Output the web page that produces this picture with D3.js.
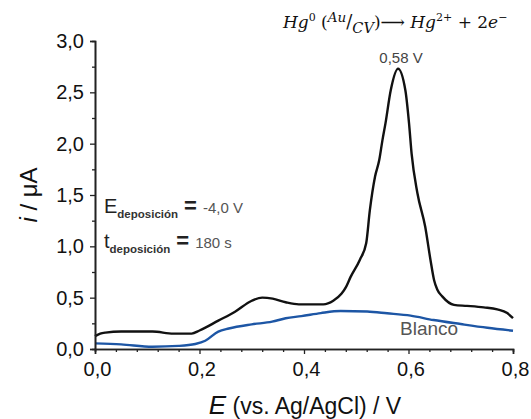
<!DOCTYPE html>
<html><head><meta charset="utf-8">
<script src="https://cdn.jsdelivr.net/npm/d3@7"></script>
<style>body{margin:0;background:#fff;} svg{display:block;font-family:"Liberation Sans",Arial,sans-serif;}</style>
</head><body>
<svg id="c" width="531" height="419"></svg>
<script>
const sampleE = [0.000,0.010,0.020,0.050,0.110,0.150,0.185,0.200,0.236,0.268,0.300,0.320,0.340,0.365,0.390,0.437,0.456,0.472,0.480,0.489,0.507,0.519,0.526,0.536,0.544,0.550,0.556,0.566,0.580,0.594,0.601,0.606,0.617,0.632,0.642,0.649,0.655,0.665,0.687,0.712,0.744,0.770,0.789,0.800];
const sampleI = [0.125,0.150,0.160,0.170,0.170,0.150,0.150,0.180,0.276,0.363,0.470,0.500,0.490,0.455,0.435,0.435,0.470,0.540,0.600,0.700,0.870,1.030,1.350,1.680,1.840,2.030,2.200,2.520,2.730,2.520,2.200,1.900,1.520,1.190,0.870,0.670,0.580,0.510,0.430,0.420,0.405,0.386,0.350,0.300];
const blankE = [0.000,0.050,0.110,0.160,0.192,0.211,0.236,0.256,0.300,0.339,0.365,0.395,0.432,0.470,0.521,0.559,0.604,0.648,0.700,0.751,0.800];
const blankI = [0.055,0.045,0.022,0.030,0.049,0.080,0.170,0.200,0.240,0.266,0.300,0.320,0.350,0.370,0.365,0.348,0.325,0.282,0.243,0.207,0.178];
const xMajor = [0,0.2,0.4,0.6,0.8];
const xMinor = [0.04,0.08,0.12,0.16,0.24,0.28,0.32,0.36,0.44,0.48,0.52,0.56,0.64,0.68,0.72,0.76];
const yMajor = [0,0.5,1.0,1.5,2.0,2.5,3.0];
const yMinor = [0.25,0.75,1.25,1.75,2.25,2.75];

const svg = d3.select("#c");
const x = d3.scaleLinear().domain([0,0.8]).range([95,513]);
const y = d3.scaleLinear().domain([0,3]).range([349,41]);
const fmt = d => d3.format(".1f")(d).replace(".", ",");

// curves
const line = d3.line().x(d=>x(d[0])).y(d=>y(d[1])).curve(d3.curveMonotoneX);
svg.append("path").datum(blankE.map((e,i)=>[e,blankI[i]]))
  .attr("d",line).attr("fill","none").attr("stroke","#1d56a5").attr("stroke-width",2.4);
svg.append("path").datum(sampleE.map((e,i)=>[e,sampleI[i]]))
  .attr("d",line).attr("fill","none").attr("stroke","#111").attr("stroke-width",2.4);

// axes
const xAxis = svg.append("g").attr("transform","translate(0,349)");
xAxis.call(d3.axisBottom(x).tickValues(xMinor).tickSize(3).tickFormat(""));
xAxis.call(g=>g.append("g").call(d3.axisBottom(x).tickValues(xMajor).tickSize(5).tickFormat(fmt)));
const yAxis = svg.append("g").attr("transform","translate(95,0)");
yAxis.call(d3.axisLeft(y).tickValues(yMinor).tickSize(3).tickFormat(""));
yAxis.call(g=>g.append("g").call(d3.axisLeft(y).tickValues(yMajor).tickSize(5).tickFormat(fmt)));
svg.selectAll(".domain").attr("stroke","#222").attr("stroke-width",1.6);
svg.selectAll(".tick line").attr("stroke","#222").attr("stroke-width",1.3);
xAxis.selectAll(".tick text").style("font-size","20px").style("font-family","Liberation Sans, Arial, sans-serif").attr("fill","#111").attr("dy","0.95em").attr("dx","2px");
yAxis.selectAll(".tick text").style("font-size","20px").style("font-family","Liberation Sans, Arial, sans-serif").attr("fill","#111").attr("dx","-3px");

// axis titles
const xt = svg.append("text").attr("x",305).attr("y",414).attr("text-anchor","middle").style("font-size","23px").attr("fill","#111");
xt.append("tspan").attr("font-style","italic").style("font-size","26px").text("E");
xt.append("tspan").text(" (vs. Ag/AgCl) / V");
const yt = svg.append("text").attr("transform","translate(37,195) rotate(-90)").attr("text-anchor","middle").style("font-size","24px").attr("fill","#111");
yt.append("tspan").attr("font-style","italic").text("i");
yt.append("tspan").text(" / μA");

// annotations
svg.append("text").attr("x",401).attr("y",63).attr("text-anchor","middle").style("font-size","15px").attr("fill","#444").text("0,58 V");
svg.append("text").attr("x",400).attr("y",335).style("font-size","19px").attr("fill","#555").text("Blanco");

function cond(yy, sym, val){
  const t = svg.append("text").attr("x",104).attr("y",yy).attr("fill","#222");
  t.append("tspan").style("font-size","20px").text(sym);
  t.append("tspan").style("font-size","11.5px").attr("font-weight","bold").attr("dy",5).attr("fill","#333").text("deposición");
  t.append("tspan").style("font-size","22px").attr("font-weight","bold").attr("dy",-5).attr("dx",6).text("=");
  t.append("tspan").style("font-size","15px").attr("fill","#555").attr("dx",6).text(val);
}
cond(213,"E","-4,0 V");
cond(248,"t","180 s");

// reaction formula
const f = svg.append("text").attr("x",283).attr("y",28).attr("font-family","DejaVu Serif, Liberation Serif, serif").style("font-size","17px").attr("fill","#111");
f.append("tspan").attr("font-style","italic").text("Hg");
f.append("tspan").style("font-size","11px").attr("dy",-7).text("0");
f.append("tspan").attr("dy",7).text(" (");
f.append("tspan").attr("font-style","italic").style("font-size","13.5px").attr("dy",-6).text("Au");
f.append("tspan").attr("dy",6).style("font-size","18px").text("/");
f.append("tspan").attr("font-style","italic").style("font-size","14.5px").attr("dy",5).text("CV");
f.append("tspan").attr("dy",-5).text(")");
f.append("tspan").text("⟶ ");
f.append("tspan").attr("font-style","italic").text("Hg");
f.append("tspan").style("font-size","11px").attr("dy",-7).text("2+");
f.append("tspan").attr("dy",7).text(" + 2");
f.append("tspan").attr("font-style","italic").text("e");
f.append("tspan").style("font-size","11px").attr("dy",-7).text("−");
</script>
</body></html>
